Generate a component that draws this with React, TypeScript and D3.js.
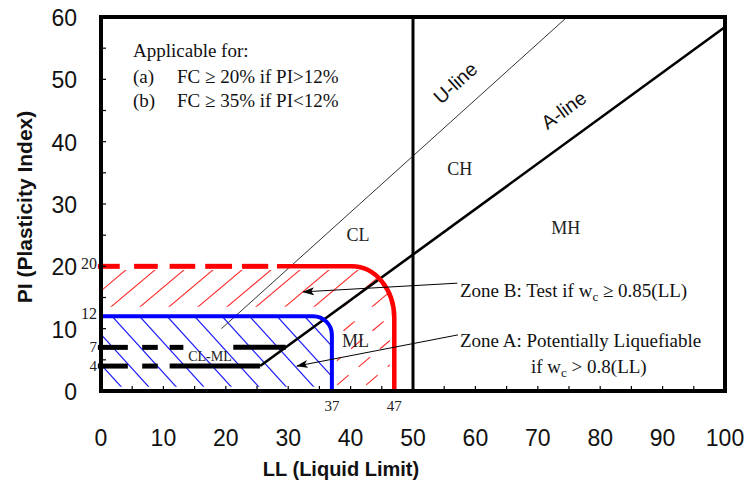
import React from 'react';
import * as d3 from 'd3';

// axis ticks
const llTickLabels = [0, 10, 20, 30, 40, 50, 60, 70, 80, 90, 100];
const piTickLabels = [0, 10, 20, 30, 40, 50, 60];
// small marker labels on the axes
const piMarks = [20, 12, 7, 4];
const llMarks = [37, 47];

// classification lines, [LL, PI]
const aLine = [[25.5, 4], [100, 58.4]];
const uLine = [[19.3, 10], [74.7, 60]];
const llDivide = 50;

// CL-ML band lines, [from LL, to LL] pieces
const pi4Pieces = [[-0.5, 4.3], [6.6, 9.1], [11, 25.5]];
const pi7Pieces = [[-0.5, 4.3], [6.6, 9.1], [11, 13.2], [21.2, 29.6]];

// Zone B (red) and Zone A (blue) boundaries
const zoneB = { pi: 20, ll: 47, cornerLL: 40.2, cornerPI: 11.7, solidFrom: 28.2 };
const zoneBDashes = [[-0.5, 3.0], [5.3, 9.1], [11, 15.1], [16.7, 21], [22.6, 26.8]];
const zoneA = { pi: 12, ll: 37, cornerLL: 34, cornerPI: 9 };

// soil group labels [text, LL, PI]
const groupLabels: [string, number, number][] = [
  ['CL', 41.2, 24],
  ['CH', 57.5, 34.7],
  ['MH', 74.5, 25.2],
  ['ML', 40.8, 7.1],
];

// arrows [fromLL, fromPI, toLL, toPI]
const arrows = [
  [57.1, 17.3, 32.4, 15.9],
  [57.2, 9.0, 31.4, 4.0],
];

const serif = '"Liberation Serif", "Times New Roman", serif';
const sans = '"Liberation Sans", Arial, sans-serif';

export default function App() {
  const width = 748;
  const height = 487;
  const x = d3.scaleLinear().domain([0, 100]).range([101, 725]);
  const y = d3.scaleLinear().domain([0, 60]).range([391, 17]);
  const line = d3.line<number[]>().x(d => x(d[0])).y(d => y(d[1]));

  const redRx = x(zoneB.ll) - x(zoneB.cornerLL);
  const redRy = y(zoneB.cornerPI) - y(zoneB.pi);
  const bluRx = x(zoneA.ll) - x(zoneA.cornerLL);
  const bluRy = y(zoneA.cornerPI) - y(zoneA.pi);

  const redShape = `M${x(0)},${y(zoneB.pi)} H${x(zoneB.cornerLL)} A${redRx},${redRy} 0 0 1 ${x(zoneB.ll)},${y(zoneB.cornerPI)} V${y(0)} H${x(0)} Z`;
  const blueShape = `M${x(0)},${y(zoneA.pi)} H${x(zoneA.cornerLL)} A${bluRx},${bluRy} 0 0 1 ${x(zoneA.ll)},${y(zoneA.cornerPI)} V${y(0)} H${x(0)} Z`;
  const redEdge = `M${x(zoneB.solidFrom)},${y(zoneB.pi)} H${x(zoneB.cornerLL)} A${redRx},${redRy} 0 0 1 ${x(zoneB.ll)},${y(zoneB.cornerPI)} V${y(0)}`;
  const blueEdge = `M${x(0)},${y(zoneA.pi)} H${x(zoneA.cornerLL)} A${bluRx},${bluRy} 0 0 1 ${x(zoneA.ll)},${y(zoneA.cornerPI)} V${y(0)}`;

  // hatch families
  const redSlope = 0.84;
  const redBase = y(13.5);
  const redHatch = d3.range(-4, 14).map(k => {
    const bx = x(0) + 10 + k * 29;
    return `M${bx - 150 / redSlope},${redBase + 150} L${bx + 250 / redSlope},${redBase - 250}`;
  });
  const blueSlope = 1.1;
  const blueTop = y(zoneA.pi);
  const blueHatch = d3.range(-4, 10).map(k => {
    const tx = x(0) + 11 + k * 27.5;
    return `M${tx - 100 / blueSlope},${blueTop - 100} L${tx + 200 / blueSlope},${blueTop + 200}`;
  });

  const minorLL = x.ticks(20).filter(v => v > 0 && v < 100);
  const minorPI = y.ticks(12).filter(v => v > 0 && v < 60);

  const uAngle = (Math.atan2(y(uLine[1][1]) - y(uLine[0][1]), x(uLine[1][0]) - x(uLine[0][0])) * 180) / Math.PI;
  const aAngle = (Math.atan2(y(aLine[1][1]) - y(aLine[0][1]), x(aLine[1][0]) - x(aLine[0][0])) * 180) / Math.PI;

  return (
    <svg width={width} height={height} style={{ position: 'absolute', left: 0, top: 0, background: '#fff' }}>
      <defs>
        <clipPath id="redZone"><path d={redShape} /></clipPath>
        <clipPath id="blueZone"><path d={blueShape} /></clipPath>
        <clipPath id="redBand">
          <rect x={x(0)} y={y(19.4)} width={x(zoneB.ll) - x(0)} height={y(13.5) - y(19.4)} />
        </clipPath>
        <clipPath id="redSide">
          <rect x={x(37.8)} y={y(11.2)} width={x(46.3) - x(37.8)} height={y(0.6) - y(11.2)} />
        </clipPath>
        <clipPath id="blueBand">
          <rect x={x(0)} y={y(11.7)} width={x(zoneA.ll) - x(0)} height={y(0.7) - y(11.7)} />
        </clipPath>
        <marker id="head" viewBox="0 0 12 8" refX="11" refY="4" markerWidth="12" markerHeight="8"
          markerUnits="userSpaceOnUse" orient="auto">
          <path d="M0,0 L12,4 L0,8 L3,4 Z" fill="#000" />
        </marker>
      </defs>

      {/* hatching */}
      <g clipPath="url(#redZone)">
        <g clipPath="url(#redBand)">
          {redHatch.map((d, i) => <path key={i} d={d} stroke="#ff2a2a" strokeWidth={1.1} fill="none" />)}
        </g>
        <g clipPath="url(#redSide)">
          {redHatch.map((d, i) => <path key={i} d={d} stroke="#ff2a2a" strokeWidth={1.1} fill="none" strokeDasharray="15,13" />)}
        </g>
      </g>
      <g clipPath="url(#blueZone)">
        <g clipPath="url(#blueBand)">
          {blueHatch.map((d, i) => <path key={i} d={d} stroke="#1a1aff" strokeWidth={1.2} fill="none" />)}
        </g>
      </g>

      {/* U-line and A-line */}
      <path d={line(uLine) as string} stroke="#333" strokeWidth={1} fill="none" />
      <path d={line(aLine) as string} stroke="#000" strokeWidth={2.6} fill="none" />

      {/* CL-ML band */}
      {pi4Pieces.map((p, i) => (
        <line key={'a' + i} x1={x(p[0])} x2={x(p[1])} y1={y(4)} y2={y(4)} stroke="#000" strokeWidth={5} />
      ))}
      {pi7Pieces.map((p, i) => (
        <line key={'b' + i} x1={x(p[0])} x2={x(p[1])} y1={y(7)} y2={y(7)} stroke="#000" strokeWidth={5} />
      ))}

      {/* zone boundaries */}
      {zoneBDashes.map((p, i) => (
        <line key={'r' + i} x1={x(p[0])} x2={x(p[1])} y1={y(zoneB.pi)} y2={y(zoneB.pi)} stroke="#ff0000" strokeWidth={5} />
      ))}
      <path d={redEdge} stroke="#ff0000" strokeWidth={4.5} fill="none" />
      <path d={blueEdge} stroke="#0000ff" strokeWidth={4} fill="none" />

      {/* frame, divider, ticks */}
      <line x1={x(llDivide)} x2={x(llDivide)} y1={y(0)} y2={y(60)} stroke="#000" strokeWidth={3} />
      {minorLL.map(v => (
        <line key={'tx' + v} x1={x(v)} x2={x(v)} y1={y(0)} y2={y(0) - 5} stroke="#000" strokeWidth={1.2} />
      ))}
      {minorPI.map(v => (
        <line key={'ty' + v} x1={x(0)} x2={x(0) + 5} y1={y(v)} y2={y(v)} stroke="#000" strokeWidth={1.2} />
      ))}
      <rect x={x(0)} y={y(60)} width={x(100) - x(0)} height={y(0) - y(60)} fill="none" stroke="#000" strokeWidth={4} />

      {/* arrows */}
      {arrows.map((a, i) => (
        <line key={'ar' + i} x1={x(a[0])} y1={y(a[1])} x2={x(a[2])} y2={y(a[3])} stroke="#000" strokeWidth={1} markerEnd="url(#head)" />
      ))}

      {/* tick labels */}
      {llTickLabels.map(v => (
        <text key={'lx' + v} x={x(v)} y={446} textAnchor="middle" fontFamily={sans} fontSize={23} fill="#111">{v}</text>
      ))}
      {piTickLabels.map(v => (
        <text key={'ly' + v} x={77} y={y(v) + 9} textAnchor="end" fontFamily={sans} fontSize={23} fill="#111">{v}</text>
      ))}
      {piMarks.map(v => (
        <text key={'pm' + v} x={97} y={y(v) + (v >= 12 ? 3 : 5)} textAnchor="end" fontFamily={serif} fontSize={v >= 12 ? 16 : 15} fill="#222">{v}</text>
      ))}
      {llMarks.map(v => (
        <text key={'lm' + v} x={x(v)} y={411} textAnchor="middle" fontFamily={serif} fontSize={15} fill="#222">{v}</text>
      ))}

      {/* axis titles */}
      <text x={341} y={476} textAnchor="middle" fontFamily={sans} fontWeight="bold" fontSize={20} fill="#111">LL (Liquid Limit)</text>
      <text transform={`translate(32,207) rotate(-90)`} textAnchor="middle" fontFamily={sans} fontWeight="bold" fontSize={21} fill="#111">PI (Plasticity Index)</text>

      {/* line labels */}
      <text transform={`translate(${x(57.5)},${y(48.6)}) rotate(${uAngle})`} textAnchor="middle" fontFamily={sans} fontSize={19.5} fill="#111">U-line</text>
      <text transform={`translate(${x(74.8)},${y(44.2)}) rotate(${aAngle})`} textAnchor="middle" fontFamily={sans} fontSize={19.5} fill="#111">A-line</text>

      {/* group labels */}
      {groupLabels.map(([t, ll, pi]) => (
        <text key={t} x={x(ll)} y={y(pi)} textAnchor="middle" fontFamily={serif} fontSize={18} fill="#222">{t}</text>
      ))}
      <text x={210} y={361} textAnchor="middle" fontFamily={serif} fontSize={14} fill="#222">CL-ML</text>

      {/* notes */}
      <g fontFamily={serif} fontSize={19} fill="#111">
        <text x={133} y={57}>Applicable for:</text>
        <text x={133} y={83}>(a)</text>
        <text x={177} y={83}>FC ≥ 20% if PI&gt;12%</text>
        <text x={133} y={107}>(b)</text>
        <text x={177} y={107}>FC ≥ 35% if PI&lt;12%</text>
      </g>
      <g fontFamily={serif} fontSize={19} fill="#111">
        <text x={460} y={297}>Zone B: Test if w<tspan fontSize={13} dy={4}>c</tspan><tspan dy={-4}> ≥ 0.85(LL)</tspan></text>
        <text x={460} y={347}>Zone A: Potentially Liquefiable</text>
        <text x={531} y={373}>if w<tspan fontSize={13} dy={4}>c</tspan><tspan dy={-4}> &gt; 0.8(LL)</tspan></text>
      </g>
    </svg>
  );
}
